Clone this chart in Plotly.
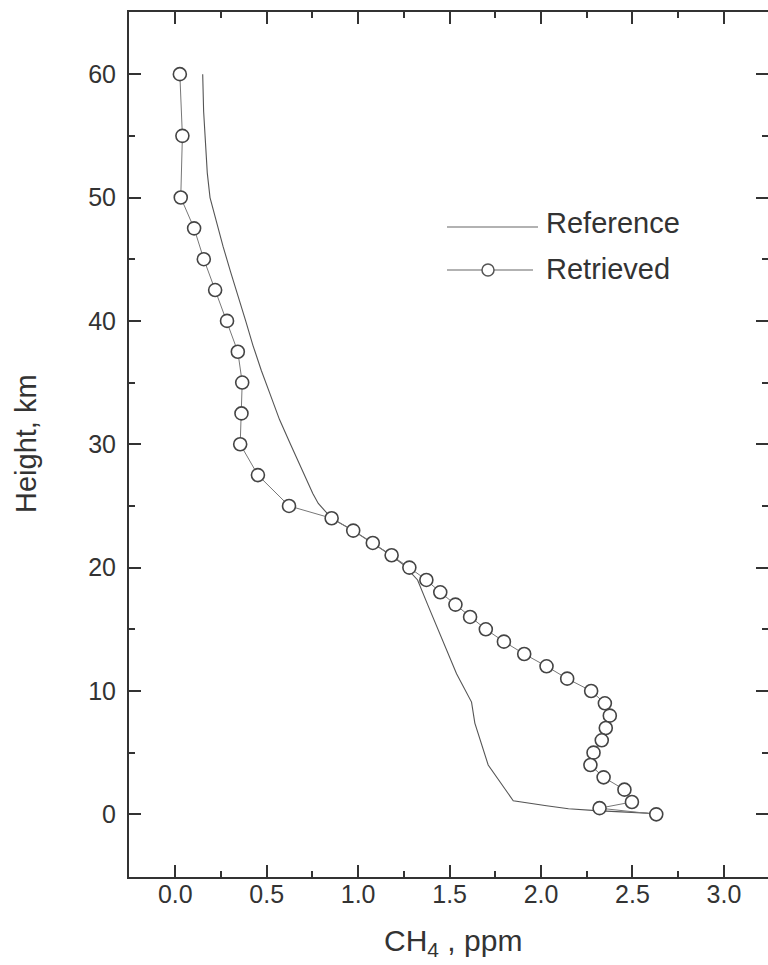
import plotly.graph_objects as go

# ---- data ----
ref_height = [60, 57, 55, 52, 50, 48, 46, 44, 42, 40, 38, 36, 34, 32, 30, 28, 26, 25.2,
              24, 23, 22, 21, 20.2, 19, 17, 14, 11.4, 9.1, 7.4, 4.0, 1.1, 0.7, 0.45, 0.3, 0.1, 0]
ref_ch4 = [0.15, 0.155, 0.163, 0.175, 0.19, 0.225, 0.262, 0.302, 0.345, 0.385, 0.425, 0.47,
           0.52, 0.57, 0.63, 0.692, 0.752, 0.782,
           0.855, 0.973, 1.08, 1.18, 1.25, 1.325, 1.38, 1.465, 1.538, 1.62, 1.638, 1.711,
           1.848, 2.03, 2.15, 2.3, 2.58, 2.62]

ret_height = [60, 55, 50, 47.5, 45, 42.5, 40, 37.5, 35, 32.5, 30, 27.5, 25, 24, 23, 22, 21, 20,
              19, 18, 17, 16, 15, 14, 13, 12, 11, 10, 9, 8, 7, 6, 5, 4, 3, 2, 1, 0.5, 0]
ret_ch4 = [0.025, 0.039, 0.03, 0.103, 0.156, 0.218, 0.283, 0.342, 0.366, 0.362, 0.355, 0.452,
           0.622, 0.855, 0.973, 1.08, 1.183, 1.28, 1.373, 1.449, 1.532, 1.612, 1.698, 1.797,
           1.908, 2.03, 2.143, 2.274, 2.349, 2.376, 2.354, 2.332, 2.287, 2.27, 2.342, 2.456,
           2.497, 2.32, 2.63]

x_ticks = [0.0, 0.5, 1.0, 1.5, 2.0, 2.5, 3.0]
y_ticks = [0, 10, 20, 30, 40, 50, 60]
series_names = ["Reference", "Retrieved"]

# ---- layout geometry ----
W, H = 768, 965
L, R, T, B = 129, 0, 12, 88
FONT = "Liberation Sans, Arial, sans-serif"
AX = "#333333"


def px_x(px):
    return (px - L) / (W - L - R)


def px_y(py):
    return (H - B - py) / (H - T - B)


fig = go.Figure()
fig.add_trace(go.Scatter(x=ref_ch4, y=ref_height, mode="lines", name=series_names[0],
                         line=dict(color="#555555", width=1.1)))
fig.add_trace(go.Scatter(x=ret_ch4, y=ret_height, mode="lines+markers", name=series_names[1],
                         line=dict(color="#777777", width=1),
                         marker=dict(symbol="circle", size=13, color="white",
                                     line=dict(color="#444444", width=1.6))))

axis_common = dict(showline=True, linecolor=AX, linewidth=2, mirror="ticks",
                   ticks="inside", ticklen=12, tickwidth=2, tickcolor=AX,
                   showgrid=False, zeroline=False)
tick_font = dict(family=FONT, size=25, color=AX)

fig.update_xaxes(range=[-0.253, 3.241], tickvals=x_ticks,
                 ticktext=[f"{v:.1f}" for v in x_ticks], tickfont=tick_font,
                 minor=dict(dtick=0.25, tick0=0, ticks="inside", ticklen=6, tickwidth=2,
                            tickcolor=AX, showgrid=False),
                 ticklabelstandoff=-6, **axis_common)
fig.update_yaxes(range=[-5.08, 65.04], tickvals=y_ticks, tickfont=tick_font,
                 minor=dict(dtick=5, tick0=0, ticks="inside", ticklen=6, tickwidth=2,
                            tickcolor=AX, showgrid=False),
                 ticklabelstandoff=6, **axis_common)

# axis titles
fig.add_annotation(text="CH<sub>4</sub> , ppm", xref="paper", yref="paper",
                   x=px_x(453), y=px_y(922), xanchor="center", yanchor="top",
                   showarrow=False, font=dict(family=FONT, size=30, color=AX))
fig.add_annotation(text="Height, km", xref="paper", yref="paper",
                   x=px_x(26), y=px_y(444), xanchor="center", yanchor="middle",
                   textangle=-90, showarrow=False,
                   font=dict(family=FONT, size=29, color=AX))

# legend (drawn manually to match the long sample lines)
shapes = [
    dict(type="line", xref="paper", yref="paper", x0=px_x(447), x1=px_x(538),
         y0=px_y(227), y1=px_y(227), line=dict(color="#999999", width=1.5)),
    dict(type="line", xref="paper", yref="paper", x0=px_x(447), x1=px_x(533),
         y0=px_y(270), y1=px_y(270), line=dict(color="#999999", width=1.5)),
    dict(type="circle", xref="paper", yref="paper", xsizemode="pixel", ysizemode="pixel",
         xanchor=px_x(488), yanchor=px_y(270), x0=-6, x1=6, y0=-6, y1=6,
         fillcolor="white", line=dict(color="#555555", width=1.5)),
]
fig.update_layout(shapes=shapes)
for name, cy in zip(series_names, [223, 269]):
    fig.add_annotation(text=name, xref="paper", yref="paper", x=px_x(544), y=px_y(cy),
                       xanchor="left", yanchor="middle", showarrow=False,
                       font=dict(family=FONT, size=29, color=AX))

fig.update_layout(width=W, height=H, margin=dict(l=L, r=R, t=T, b=B, autoexpand=False),
                  paper_bgcolor="white", plot_bgcolor="white", showlegend=False)

fig.write_html("out.html")
